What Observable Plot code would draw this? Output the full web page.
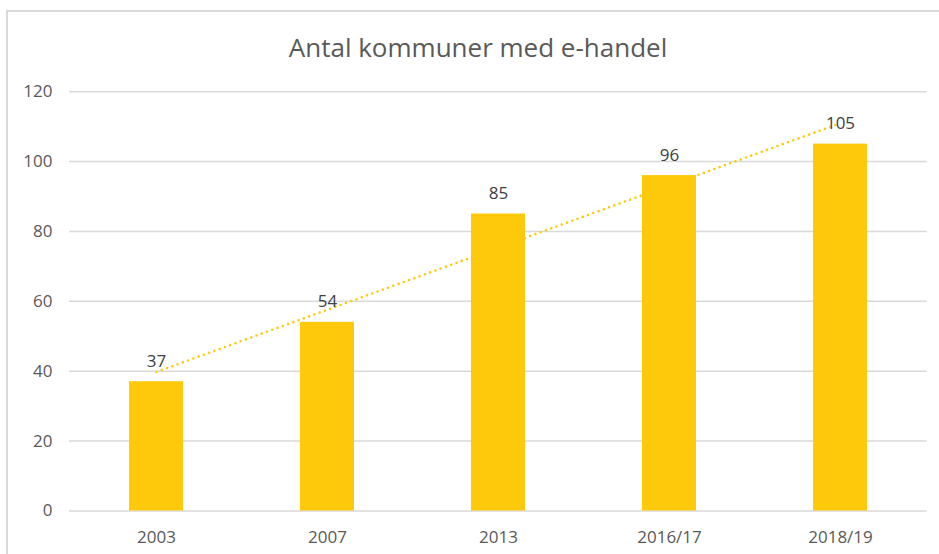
<!DOCTYPE html>
<html>
<head>
<meta charset="utf-8">
<script src="https://cdn.jsdelivr.net/npm/d3@7"></script>
<script src="https://cdn.jsdelivr.net/npm/@observablehq/plot@0.6"></script>
<style>
  html, body { margin: 0; padding: 0; background: #fff; overflow: hidden; }
  #page { position: relative; width: 939px; height: 554px; }
  #frame { position: absolute; left: 6px; top: 10px; width: 960px; height: 580px; border: 2px solid #d9d9d9; box-sizing: border-box; pointer-events: none; }
  #title { position: relative; height: 70px; }
  #title span { position: absolute; left: 0; width: 956px; top: 34px; text-align: center; font-family: "Open Sans", sans-serif; font-size: 26px; line-height: 26px; color: #595959; white-space: nowrap; }
  #chart { position: relative; }
</style>
</head>
<body>
<div id="page">
  <div id="frame"></div>
  <div id="title"><span>Antal kommuner med e-handel</span></div>
  <div id="chart"></div>
</div>
<script>
const categories = ["2003", "2007", "2013", "2016/17", "2018/19"];
const values = [37, 54, 85, 96, 105];
const trendCategories = ["2003", "2018/19"];
const trendValues = [39.8, 111];
const yTicks = [0, 20, 40, 60, 80, 100, 120];

const data = categories.map((c, i) => ({category: c, value: values[i]}));
const trend = trendCategories.map((c, i) => ({category: c, value: trendValues[i]}));

const barColor = "#FFC90B";

const chart = Plot.plot({
  width: 939,
  height: 484,
  marginTop: 21.2,
  marginBottom: 43.5,
  marginLeft: 69,
  marginRight: 12.3,
  style: {fontFamily: "'Open Sans', sans-serif", fontSize: "17px", color: "#595959", background: "transparent", overflow: "visible"},
  x: {domain: categories, paddingInner: 0.687, paddingOuter: 0.3435, label: null},
  y: {domain: [0, 120], label: null},
  marks: [
    Plot.ruleY(yTicks, {stroke: "#d9d9d9", strokeWidth: 1.5}),
    Plot.line(trend, {x: "category", y: "value", stroke: barColor, strokeWidth: 2.6, strokeDasharray: "0 5.6", strokeLinecap: "round"}),
    Plot.barY(data, {x: "category", y: "value", fill: barColor}),
    Plot.text(data, {x: "category", y: "value", text: d => String(d.value), dy: -15, lineAnchor: "bottom", fill: "#404040", fontSize: 17}),
    Plot.axisX({tickSize: 0, tickPadding: 19.5, fontSize: 17, label: null}),
    Plot.axisY({ticks: yTicks, tickSize: 0, tickPadding: 17, fontSize: 17, label: null})
  ]
});
document.getElementById("chart").appendChild(chart);
</script>
</body>
</html>
